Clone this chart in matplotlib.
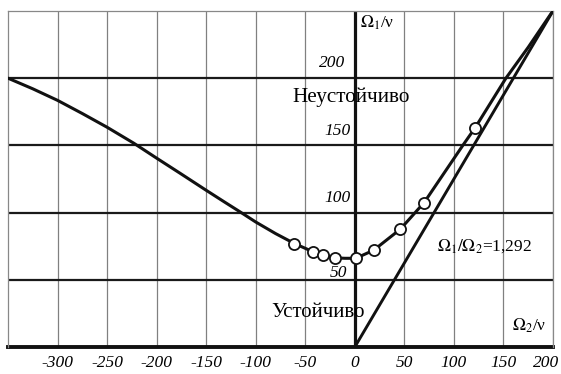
import numpy as np
import matplotlib.pyplot as plt
import matplotlib.transforms as mtransforms

# boundary curve Omega1/nu vs Omega2/nu
curve_x = [-350, -325, -300, -275, -250, -223, -200, -176, -150, -132, -115.5, -100, -80, -61,
           -42, -32, -20, -10, 1, 19, 46, 70, 90, 109, 121.5, 137, 152.5, 175, 198]
curve_y = [200, 192.1, 183.5, 173.7, 163.5, 151.6, 140.5, 129.1, 116.6, 108.1, 100.4, 93, 84.4, 77,
           70.8, 68.3, 66.3, 66, 66, 72, 87.7, 107.5, 129.3, 150, 163.2, 181.6, 200, 223, 248]

# measured points
pts_x = [-61, -42, -32, -20, 1, 19, 46, 70, 121.5]
pts_y = [77, 70.8, 68.3, 66.3, 66, 72, 87.7, 107.5, 163.2]

# ratio line
line_x = [0, 200]
line_y = [0, 250]

xticks = [-300, -250, -200, -150, -100, -50, 0, 50, 100, 150, 200]
yticks = [50, 100, 150, 200]

serif = 'Liberation Serif'

fig = plt.figure(figsize=(5.61, 3.74), dpi=100)
ax = fig.add_axes([0.0143, 0.0722, 0.9714, 0.8984])
ax.set_xlim(-350, 200)
ax.set_ylim(0, 250)

# grid
for x in xticks:
    if x != 0:
        ax.axvline(x, color='#808080', lw=0.9, zorder=1)
for y in yticks:
    ax.axhline(y, color='#1a1a1a', lw=1.6, zorder=1)
ax.axvline(0, color='#111111', lw=2.3, zorder=2)
ax.axhline(0, color='#111111', lw=2.8, zorder=2, clip_on=False)

for s in ['top', 'left', 'right']:
    ax.spines[s].set_color('#888888')
    ax.spines[s].set_linewidth(0.9)
ax.spines['bottom'].set_visible(False)

ax.plot(line_x, line_y, color='#111111', lw=2.1, zorder=3, solid_capstyle='butt')
ax.plot(curve_x, curve_y, color='#111111', lw=2.2, zorder=3, solid_joinstyle='round')
ax.plot(pts_x, pts_y, 'o', ms=8, mfc='white', mec='#111111', mew=1.3, zorder=4)

ax.set_xticks(xticks)
ax.set_xticklabels([str(t) for t in xticks], family=serif, style='italic', fontsize=12.5)
ax.set_yticks([])
ax.tick_params(axis='x', length=0, pad=6)
# last label pushed in a little so it stays inside the figure
last = ax.get_xticklabels()[-1]
last.set_transform(last.get_transform() + mtransforms.ScaledTranslation(-0.07, 0, fig.dpi_scale_trans))

# y tick labels next to the axis
ax.text(-10, 211.5, '200', family=serif, style='italic', fontsize=12.5, ha='right', va='center')
ax.text(-4.7, 161, '150', family=serif, style='italic', fontsize=12.5, ha='right', va='center')
ax.text(-4.7, 111, '100', family=serif, style='italic', fontsize=12.5, ha='right', va='center')
ax.text(-7.4, 55, '50', family=serif, style='italic', fontsize=12.5, ha='right', va='center')

ax.text(5, 241.5, r'$\Omega_1$/ν', family=serif, fontsize=12.5, ha='left', va='center',
        math_fontfamily='stix')
ax.text(-63, 186, 'Неустойчиво', family=serif, fontsize=15.3, ha='left', va='center')
ax.text(-84, 25.3, 'Устойчиво', family=serif, fontsize=15, ha='left', va='center')
ax.text(83, 75, r'$\Omega_1/\Omega_2$=1,292', family=serif, fontsize=12.5, ha='left', va='center',
        math_fontfamily='stix')
ax.text(159, 15.6, r'$\Omega_2$/ν', family=serif, fontsize=12.5, ha='left', va='center',
        math_fontfamily='stix')

fig.savefig('out.png', dpi=100)
